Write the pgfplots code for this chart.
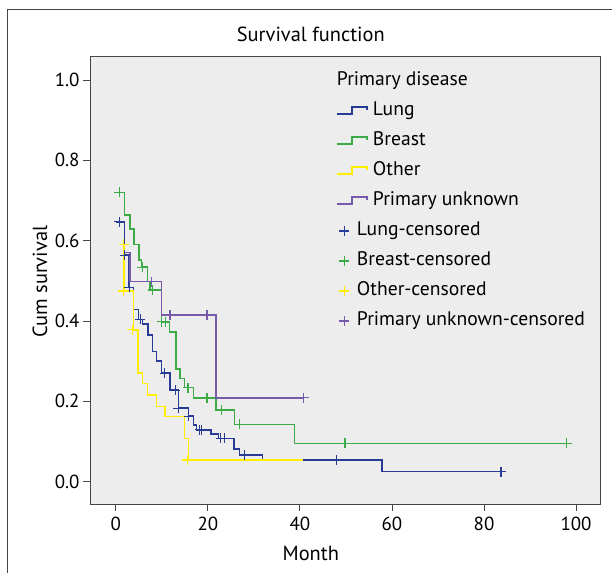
\documentclass[border=0pt]{standalone}
\usepackage{pgfplots}
\pgfplotsset{compat=1.18}
\usepackage{fontspec}
\setmainfont{PT Sans}
\definecolor{bgc}{RGB}{237,237,237}
\definecolor{framec}{RGB}{70,70,70}
\definecolor{lungc}{RGB}{40,60,150}
\definecolor{breastc}{RGB}{60,170,70}
\definecolor{otherc}{RGB}{255,238,0}
\definecolor{unkc}{RGB}{120,90,170}
\pgfplotsset{
  steplegend/.style={legend image code/.code={
    \draw[overlay,line width=1.3bp,##1] (0bp,-3bp) -- (15bp,-3bp) -- (15bp,4bp) -- (30bp,4bp) -- (30bp,1bp);
    \path[draw=none,fill=none] (0bp,-3bp) rectangle (15bp,4bp);}},
  marklegend/.style={legend image code/.code={
    \draw[##1] plot coordinates {(7.5bp,0bp)};
    \path[draw=none,fill=none] (0bp,-3bp) rectangle (15bp,4bp);}},
}
\begin{document}
\begin{tikzpicture}
\path[use as bounding box] (0,0) rectangle (612bp,573bp);
\fill[white] (0,0) rectangle (612bp,573bp);
\draw[framec,line width=1bp] (7bp,-2bp) -- (7bp,563bp) -- (614bp,563bp);
\begin{axis}[
  at={(90bp,69bp)}, anchor=south west,
  scale only axis, width=510bp, height=447bp,
  xmin=-5.6, xmax=105.2, ymin=-0.0555, ymax=1.0573,
  axis background/.style={fill=bgc},
  axis line style={draw=framec, line width=1bp},
  xtick={0,20,40,60,80,100}, ytick={0,0.2,0.4,0.6,0.8,1.0},
  /pgf/number format/assume math mode=true,
  yticklabel style={/pgf/number format/.cd, fixed, fixed zerofill, precision=1},
  xticklabel style={yshift=-3bp},
  tick align=outside, tick pos=left, major tick length=7bp,
  tick style={framec, line width=0.8bp},
  ticklabel style={font=\fontsize{19}{22}\selectfont},
  title={Survival function},
  title style={at={(axis description cs:0.433,1.037)}, anchor=center, yshift=0pt, font=\fontsize{20.5}{23}\selectfont},
  xlabel={Month},
  xlabel style={at={(axis description cs:0.433,-0.11)}, anchor=center, font=\fontsize{20.5}{23}\selectfont},
  ylabel={Cum survival},
  ylabel style={at={(axis description cs:-0.098,0.497)}, anchor=center, font=\fontsize{20.5}{23}\selectfont},
  legend cell align=left,
  legend style={at={(axis description cs:0.478,0.969)}, anchor=north west, draw=none, fill=none,
    font=\fontsize{19.7}{22}\selectfont, row sep=14bp, column sep=5bp,
    nodes={inner sep=0pt, text height=12bp, text depth=4bp}},
  legend entries={\hspace*{-20bp}Primary disease, \hspace*{16bp}Lung, \hspace*{16bp}Breast, \hspace*{16bp}Other, \hspace*{16bp}Primary unknown, Lung-censored, Breast-censored, Other-censored, Primary unknown-censored},
]
\addlegendimage{empty legend}
% survival curves
\addplot[const plot, lungc, line width=1.5bp, steplegend] coordinates {
 (0,0.647) (1.85,0.564) (2.9,0.484) (3.8,0.429) (4.9,0.404) (5.8,0.392) (7.0,0.365) (8.0,0.324) (8.9,0.300) (9.9,0.270) (11.8,0.228) (13.6,0.183) (15.8,0.163) (16.9,0.141) (17.5,0.129) (20.7,0.119) (22.3,0.108) (25.7,0.081) (26.9,0.066) (31.9,0.054) (57.8,0.025) (83.7,0.025)};
\addplot[const plot, breastc, line width=1.5bp, steplegend] coordinates {
 (0.2,0.720) (1.9,0.664) (3.1,0.629) (4.0,0.591) (5.0,0.552) (5.6,0.534) (6.9,0.498) (7.4,0.477) (9.95,0.398) (11.7,0.373) (13.1,0.280) (13.9,0.257) (14.9,0.234) (16.9,0.209) (21.8,0.178) (25.8,0.143) (38.8,0.0955) (98,0.0955)};
\addplot[const plot, otherc, line width=1.5bp, steplegend] coordinates {
 (1.7,0.591) (1.75,0.475) (3.8,0.378) (4.8,0.271) (5.8,0.245) (6.9,0.216) (8.9,0.187) (10.7,0.162) (14.9,0.108) (15.8,0.054) (40.6,0.054)};
\addplot[const plot, unkc, line width=1.5bp, steplegend] coordinates {
 (2.0,0.571) (3.1,0.498) (9.95,0.415) (21.8,0.209) (40.8,0.209)};
% censored
\addplot[only marks, mark=+, mark size=5bp, lungc, line width=1.2bp, marklegend] coordinates {
 (0.8,0.647) (1.9,0.564) (2.9,0.484) (5.3,0.404) (10.6,0.270) (12.9,0.228) (13.6,0.183) (15.8,0.163) (18.2,0.129) (18.7,0.129) (22.8,0.108) (23.6,0.108) (27.9,0.066) (48.0,0.054) (83.7,0.025)};
\addplot[only marks, mark=+, mark size=5bp, breastc, line width=1.2bp, marklegend] coordinates {
 (0.8,0.720) (5.8,0.534) (8.0,0.477) (9.95,0.398) (10.8,0.398) (15.7,0.234) (19.8,0.209) (22.9,0.178) (26.9,0.143) (49.8,0.0955) (98,0.0955)};
\addplot[only marks, mark=+, mark size=5bp, otherc, line width=1.2bp, marklegend] coordinates {
 (1.7,0.591) (1.6,0.475) (3.6,0.378) (15.5,0.054)};
\addplot[only marks, mark=+, mark size=5bp, unkc, line width=1.2bp, marklegend] coordinates {
 (7.8,0.498) (11.8,0.415) (19.8,0.415) (40.8,0.209)};
\end{axis}
\end{tikzpicture}
\end{document}
